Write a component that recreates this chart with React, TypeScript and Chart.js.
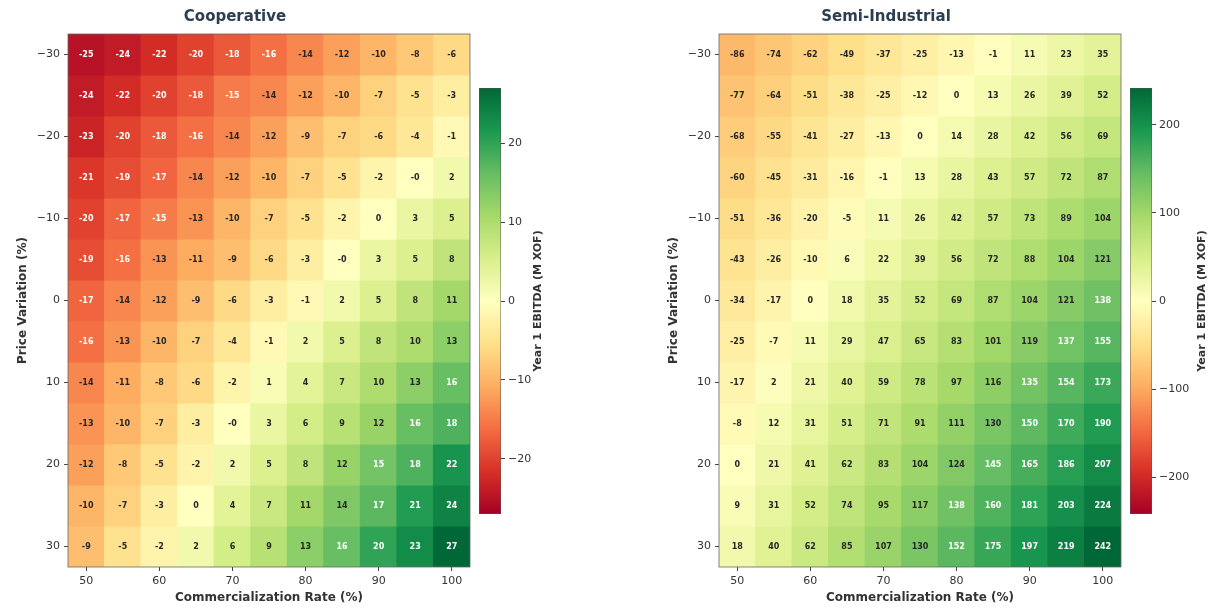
import React, { useEffect, useRef } from 'react';
import { Chart, registerables } from 'chart.js';

Chart.register(...registerables);

const FONT = '"DejaVu Sans", "Liberation Sans", sans-serif';
Chart.defaults.font.family = FONT;

// ---------- data ----------
const commercializationRates = [50, 55, 60, 65, 70, 75, 80, 85, 90, 95, 100];
const priceVariations = [-30, -25, -20, -15, -10, -5, 0, 5, 10, 15, 20, 25, 30];

const cooperativeEbitda = [
  [-25, -24, -22, -20, -18, -16, -14, -12, -10, -8, -6],
  [-24, -22, -20, -18, -15, -14, -12, -10, -7, -5, -3],
  [-23, -20, -18, -16, -14, -12, -9, -7, -6, -4, -1],
  [-21, -19, -17, -14, -12, -10, -7, -5, -2, -0, 2],
  [-20, -17, -15, -13, -10, -7, -5, -2, 0, 3, 5],
  [-19, -16, -13, -11, -9, -6, -3, -0, 3, 5, 8],
  [-17, -14, -12, -9, -6, -3, -1, 2, 5, 8, 11],
  [-16, -13, -10, -7, -4, -1, 2, 5, 8, 10, 13],
  [-14, -11, -8, -6, -2, 1, 4, 7, 10, 13, 16],
  [-13, -10, -7, -3, -0, 3, 6, 9, 12, 16, 18],
  [-12, -8, -5, -2, 2, 5, 8, 12, 15, 18, 22],
  [-10, -7, -3, 0, 4, 7, 11, 14, 17, 21, 24],
  [-9, -5, -2, 2, 6, 9, 13, 16, 20, 23, 27],
];

const semiIndustrialEbitda = [
  [-86, -74, -62, -49, -37, -25, -13, -1, 11, 23, 35],
  [-77, -64, -51, -38, -25, -12, 0, 13, 26, 39, 52],
  [-68, -55, -41, -27, -13, 0, 14, 28, 42, 56, 69],
  [-60, -45, -31, -16, -1, 13, 28, 43, 57, 72, 87],
  [-51, -36, -20, -5, 11, 26, 42, 57, 73, 89, 104],
  [-43, -26, -10, 6, 22, 39, 56, 72, 88, 104, 121],
  [-34, -17, 0, 18, 35, 52, 69, 87, 104, 121, 138],
  [-25, -7, 11, 29, 47, 65, 83, 101, 119, 137, 155],
  [-17, 2, 21, 40, 59, 78, 97, 116, 135, 154, 173],
  [-8, 12, 31, 51, 71, 91, 111, 130, 150, 170, 190],
  [0, 21, 41, 62, 83, 104, 124, 145, 165, 186, 207],
  [9, 31, 52, 74, 95, 117, 138, 160, 181, 203, 224],
  [18, 40, 62, 85, 107, 130, 152, 175, 197, 219, 242],
];

const panelTitles = ['Cooperative', 'Semi-Industrial'];
const xAxisTitle = 'Commercialization Rate (%)';
const yAxisTitle = 'Price Variation (%)';
const colorbarTitle = 'Year 1 EBITDA (M XOF)';
const xTickStep = 10;
const yTickStep = 10;
const cooperativeColorbarStep = 10;
const semiColorbarStep = 100;

// ---------- colormap (RdYlGn) ----------
const RDYLGN = [
  '#a50026', '#d73027', '#f46d43', '#fdae61', '#fee08b', '#ffffbf',
  '#d9ef8b', '#a6d96a', '#66bd63', '#1a9850', '#006837',
];

function hexToRgb(h: string) {
  return [parseInt(h.slice(1, 3), 16), parseInt(h.slice(3, 5), 16), parseInt(h.slice(5, 7), 16)];
}

function cmap(t: number) {
  const tt = Math.max(0, Math.min(1, t));
  const s = tt * (RDYLGN.length - 1);
  const i = Math.min(Math.floor(s), RDYLGN.length - 2);
  const f = s - i;
  const a = hexToRgb(RDYLGN[i]);
  const b = hexToRgb(RDYLGN[i + 1]);
  const c = a.map((v, k) => Math.round(v + (b[k] - v) * f));
  return `rgb(${c[0]},${c[1]},${c[2]})`;
}

const fmtTick = (v: number | string) => {
  const n = Number(v);
  return n < 0 ? '\u2212' + Math.abs(n) : String(n);
};

const fmtCell = (v: number) => (Object.is(v, -0) ? '-0' : String(v));

const TICK_COLOR = '#333333';
const TITLE_COLOR = '#2c3e50';

// ---------- heatmap chart ----------
function heatmapConfig(title: string, values: number[][]) {
  const vmax = Math.max(...values.flat().map((v) => Math.abs(v)));
  const half = (priceVariations[1] - priceVariations[0]) / 2;
  const halfX = (commercializationRates[1] - commercializationRates[0]) / 2;

  const datasets = priceVariations.map((p, r) => ({
    data: commercializationRates.map((c) => ({ x: c, y: [p - half, p + half] })),
    backgroundColor: values[r].map((v) => cmap((v + vmax) / (2 * vmax))),
    borderWidth: 0,
    grouped: false,
    categoryPercentage: 1,
    barPercentage: 1,
    inflateAmount: 0.5,
  }));

  const cellLabels = {
    id: 'cellLabels',
    afterDatasetsDraw(chart: any) {
      const ctx = chart.ctx;
      ctx.save();
      ctx.font = `bold 8px ${FONT}`;
      ctx.textAlign = 'center';
      ctx.textBaseline = 'middle';
      chart.data.datasets.forEach((_: any, di: number) => {
        const meta = chart.getDatasetMeta(di);
        meta.data.forEach((el: any, i: number) => {
          const v = values[di][i];
          ctx.fillStyle = Math.abs(v) > 0.55 * vmax ? '#ffffff' : '#262626';
          const { x, y, base } = el.getProps(['x', 'y', 'base'], true);
          ctx.fillText(fmtCell(v), x, (y + base) / 2 + 0.5);
        });
      });
      ctx.restore();
    },
  };

  const frame = {
    id: 'frame',
    afterDraw(chart: any) {
      const { ctx, chartArea: a } = chart;
      ctx.save();
      ctx.strokeStyle = '#666666';
      ctx.lineWidth = 0.8;
      ctx.strokeRect(a.left, a.top, a.right - a.left, a.bottom - a.top);
      ctx.restore();
    },
  };

  return {
    type: 'bar',
    data: { datasets },
    options: {
      responsive: false,
      animation: false,
      layout: { padding: { left: 0, right: 5, top: 0, bottom: 0 } },
      plugins: {
        legend: { display: false },
        tooltip: { enabled: false },
        title: {
          display: true,
          text: title,
          color: TITLE_COLOR,
          font: { family: FONT, size: 15, weight: 'bold' },
          padding: { top: 8, bottom: 8 },
        },
      },
      scales: {
        x: {
          type: 'linear',
          offset: false,
          min: commercializationRates[0] - halfX,
          max: commercializationRates[commercializationRates.length - 1] + halfX,
          afterFit: (s: any) => {
            s.height = 43;
          },
          ticks: {
            stepSize: xTickStep,
            includeBounds: false,
            color: TICK_COLOR,
            font: { family: FONT, size: 11 },
            padding: 4,
            maxRotation: 0,
            callback: fmtTick,
          },
          grid: { display: true, drawOnChartArea: false, drawTicks: true, tickLength: 4, color: '#444', offset: false },
          border: { display: false },
          title: {
            display: true,
            text: xAxisTitle,
            color: TICK_COLOR,
            font: { family: FONT, size: 12, weight: 'bold' },
            padding: { top: 0, bottom: 5 },
          },
        },
        y: {
          type: 'linear',
          reverse: true,
          min: priceVariations[0] - half,
          max: priceVariations[priceVariations.length - 1] + half,
          afterFit: (s: any) => {
            s.width = 68;
          },
          ticks: {
            stepSize: yTickStep,
            includeBounds: false,
            color: TICK_COLOR,
            font: { family: FONT, size: 11 },
            padding: 4,
            callback: fmtTick,
          },
          grid: { display: true, drawOnChartArea: false, drawTicks: true, tickLength: 4, color: '#444' },
          border: { display: false },
          title: {
            display: true,
            text: yAxisTitle,
            color: TICK_COLOR,
            font: { family: FONT, size: 12, weight: 'bold' },
            padding: { top: 16, bottom: 0 },
          },
        },
      },
    },
    plugins: [cellLabels, frame],
  };
}

// ---------- colorbar chart ----------
function colorbarConfig(values: number[][], step: number, labelX: number) {
  const vmax = Math.max(...values.flat().map((v) => Math.abs(v)));
  const labelPlugin = {
    id: 'cbLabel',
    afterDraw(chart: any) {
      const { ctx, chartArea: a } = chart;
      ctx.save();
      ctx.translate(labelX, (a.top + a.bottom) / 2);
      ctx.rotate(-Math.PI / 2);
      ctx.font = `bold 11px ${FONT}`;
      ctx.fillStyle = TICK_COLOR;
      ctx.textAlign = 'center';
      ctx.textBaseline = 'middle';
      ctx.fillText(colorbarTitle, 0, 0);
      ctx.restore();
    },
  };
  return {
    type: 'bar',
    data: {
      labels: ['cb'],
      datasets: [
        {
          data: [[-vmax, vmax]],
          backgroundColor: (c: any) => {
            const a = c.chart.chartArea;
            if (!a) return '#cccccc';
            const g = c.chart.ctx.createLinearGradient(0, a.bottom, 0, a.top);
            RDYLGN.forEach((col, i) => g.addColorStop(i / (RDYLGN.length - 1), col));
            return g;
          },
          borderColor: '#555555',
          borderWidth: 0.8,
          borderSkipped: false,
          categoryPercentage: 1,
          barPercentage: 1,
        },
      ],
    },
    options: {
      responsive: false,
      animation: false,
      layout: { padding: { left: 9, right: 0, top: 88, bottom: 96 } },
      plugins: { legend: { display: false }, tooltip: { enabled: false } },
      scales: {
        x: { display: false },
        y: {
          position: 'right',
          min: -vmax,
          max: vmax,
          afterFit: (s: any) => {
            s.width = 59;
          },
          ticks: {
            stepSize: step,
            includeBounds: false,
            color: TICK_COLOR,
            font: { family: FONT, size: 11 },
            padding: 3,
            callback: fmtTick,
          },
          grid: { display: true, drawOnChartArea: false, drawTicks: true, tickLength: 4, color: '#444' },
          border: { display: false },
        },
      },
    },
    plugins: [labelPlugin],
  };
}

function ChartCanvas({ config, left, width }: { config: any; left: number; width: number }) {
  const ref = useRef<HTMLCanvasElement | null>(null);
  useEffect(() => {
    if (!ref.current) return;
    const chart = new Chart(ref.current, config);
    return () => chart.destroy();
  }, [config]);
  return (
    <canvas
      ref={ref}
      width={width}
      height={610}
      style={{ position: 'absolute', left, top: 0, width, height: 610 }}
    />
  );
}

const coopHeat = heatmapConfig(panelTitles[0], cooperativeEbitda);
const semiHeat = heatmapConfig(panelTitles[1], semiIndustrialEbitda);
const coopBar = colorbarConfig(cooperativeEbitda, cooperativeColorbarStep, 68);
const semiBar = colorbarConfig(semiIndustrialEbitda, semiColorbarStep, 81);

export default function App() {
  return (
    <div
      style={{
        position: 'absolute',
        left: 0,
        top: 0,
        width: 1211,
        height: 610,
        background: '#ffffff',
        overflow: 'hidden',
      }}
    >
      <ChartCanvas config={coopHeat} left={0} width={475} />
      <ChartCanvas config={coopBar} left={470} width={90} />
      <ChartCanvas config={semiHeat} left={651} width={475} />
      <ChartCanvas config={semiBar} left={1121} width={90} />
    </div>
  );
}
